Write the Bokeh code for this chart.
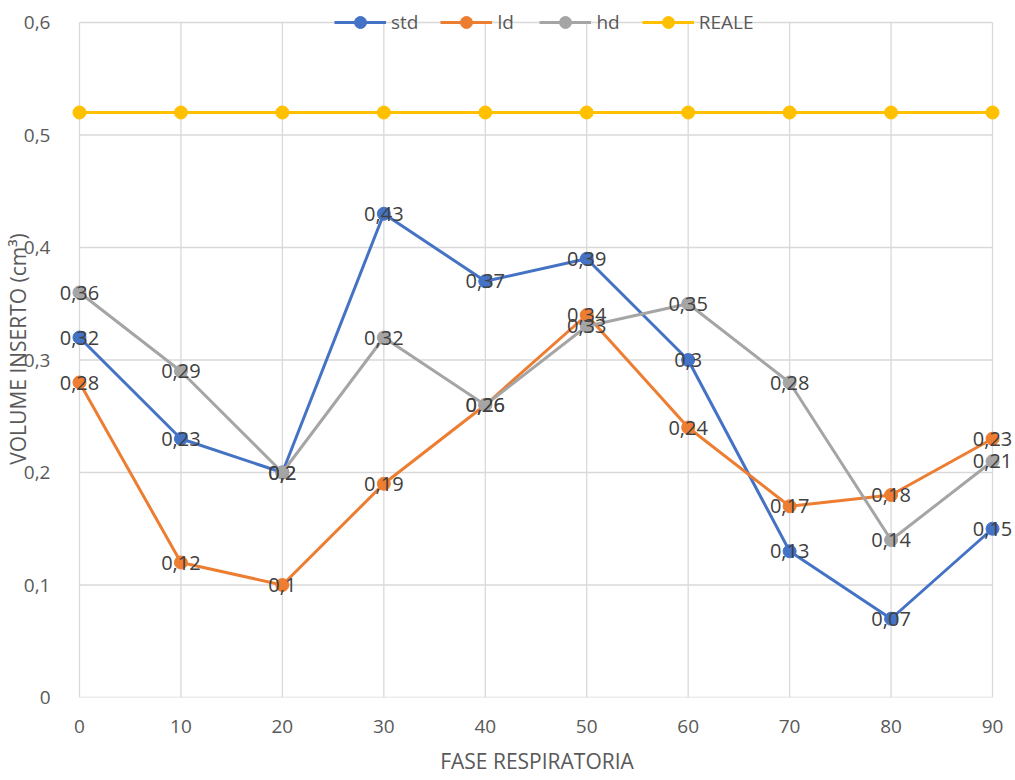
from bokeh.plotting import figure
from bokeh.models import (ColumnDataSource, FixedTicker, CustomJSTickFormatter,
                          Legend, LegendItem, Range1d)
from bokeh.core.properties import value
from bokeh.embed import file_html
from bokeh.resources import INLINE

# Respiratory phase (x) and inserted volume per reconstruction
fase = [0, 10, 20, 30, 40, 50, 60, 70, 80, 90]
std = [0.32, 0.23, 0.2, 0.43, 0.37, 0.39, 0.3, 0.13, 0.07, 0.15]
ld = [0.28, 0.12, 0.1, 0.19, 0.26, 0.34, 0.24, 0.17, 0.18, 0.23]
hd = [0.36, 0.29, 0.2, 0.32, 0.26, 0.33, 0.35, 0.28, 0.14, 0.21]
reale = [0.52, 0.52, 0.52, 0.52, 0.52, 0.52, 0.52, 0.52, 0.52, 0.52]

x_ticks = [0, 10, 20, 30, 40, 50, 60, 70, 80, 90]
y_ticks = [0, 0.1, 0.2, 0.3, 0.4, 0.5, 0.6]

FONT = "Open Sans"
AXIS_GRAY = "#595959"
LABEL_DARK = "#404040"
GRID = "#D9D9D9"

series = [
    ("std", std, "#4472C4", True),
    ("ld", ld, "#ED7D31", True),
    ("hd", hd, "#A5A5A5", True),
    ("REALE", reale, "#FFC000", False),
]

# The plotting frame is a little larger than the data area so that the
# value labels at both ends and the legend on the top edge are not clipped.
# The data area itself spans 914 x 675 px.
x0, x1 = x_ticks[0], x_ticks[-1]
y0, y1 = y_ticks[0], y_ticks[-1]
px_x = (x1 - x0) / 914.0
px_y = (y1 - y0) / 675.0
PAD_L, PAD_R, PAD_T = 21, 23, 22

p = figure(width=1015, height=780, output_backend="svg", toolbar_location=None,
           x_range=Range1d(x0 - PAD_L * px_x, x1 + PAD_R * px_x),
           y_range=Range1d(y0, y1 + PAD_T * px_y),
           min_border_left=57, min_border_right=0, min_border_top=0,
           min_border_bottom=83)
p.background_fill_color = "white"
p.border_fill_color = "white"
p.outline_line_color = None
p.xgrid.visible = False
p.ygrid.visible = False

# grid lines bounded to the data area
n_x, n_y = len(x_ticks), len(y_ticks)
p.segment(x0=x_ticks, y0=[y0] * n_x, x1=x_ticks, y1=[y1] * n_x,
          line_color=GRID, line_width=1.3)
p.segment(x0=[x0] * n_y, y0=y_ticks, x1=[x1] * n_y, y1=y_ticks,
          line_color=GRID, line_width=1.3)

# axes
p.xaxis.ticker = FixedTicker(ticks=x_ticks)
p.yaxis.ticker = FixedTicker(ticks=y_ticks)
p.yaxis.formatter = CustomJSTickFormatter(
    code="return tick === 0 ? '0' : tick.toFixed(1).replace('.', ',');")
for ax in (p.xaxis[0], p.yaxis[0]):
    ax.axis_line_color = None
    ax.major_tick_line_color = None
    ax.minor_tick_line_color = None
    ax.major_label_text_font = FONT
    ax.major_label_text_font_size = "19px"
    ax.major_label_text_color = AXIS_GRAY
    ax.axis_label_text_font = FONT
    ax.axis_label_text_font_size = "21px"
    ax.axis_label_text_font_style = "normal"
    ax.axis_label_text_color = AXIS_GRAY
p.xaxis.axis_label = "FASE RESPIRATORIA"
p.yaxis.axis_label = "VOLUME INSERTO (cm³)"
p.xaxis.major_label_standoff = 16
p.xaxis.axis_label_standoff = 11
p.yaxis.major_label_standoff = 2
# the vertical title sits partly over the tick labels
p.yaxis.axis_label_standoff = -11

items = []
label_sets = []
for name, vals, color, labelled in series:
    src = ColumnDataSource(dict(x=fase, y=vals))
    ln = p.line("x", "y", source=src, line_color=color, line_width=3)
    mk = p.scatter("x", "y", source=src, size=13, marker="circle",
                   fill_color=color, line_color=color)
    items.append(LegendItem(label=name, renderers=[ln, mk]))
    if labelled:
        label_sets.append((vals, [f"{v:g}".replace(".", ",") for v in vals]))

# value labels centred on each point, above every line
for vals, texts in label_sets:
    p.text(x=fase, y=vals, text=texts, text_align="center",
           text_baseline="middle", text_font=value(FONT),
           text_font_size="20px", text_color=LABEL_DARK)

legend = Legend(items=items, orientation="horizontal", location=(276, 660),
                background_fill_alpha=0, border_line_color=None,
                padding=0, margin=0, spacing=22, label_standoff=5,
                glyph_width=52, glyph_height=30, label_height=30,
                label_text_font=FONT, label_text_font_size="19px",
                label_text_color=AXIS_GRAY)
p.add_layout(legend)

open("out.html", "w").write(file_html(p, INLINE))
